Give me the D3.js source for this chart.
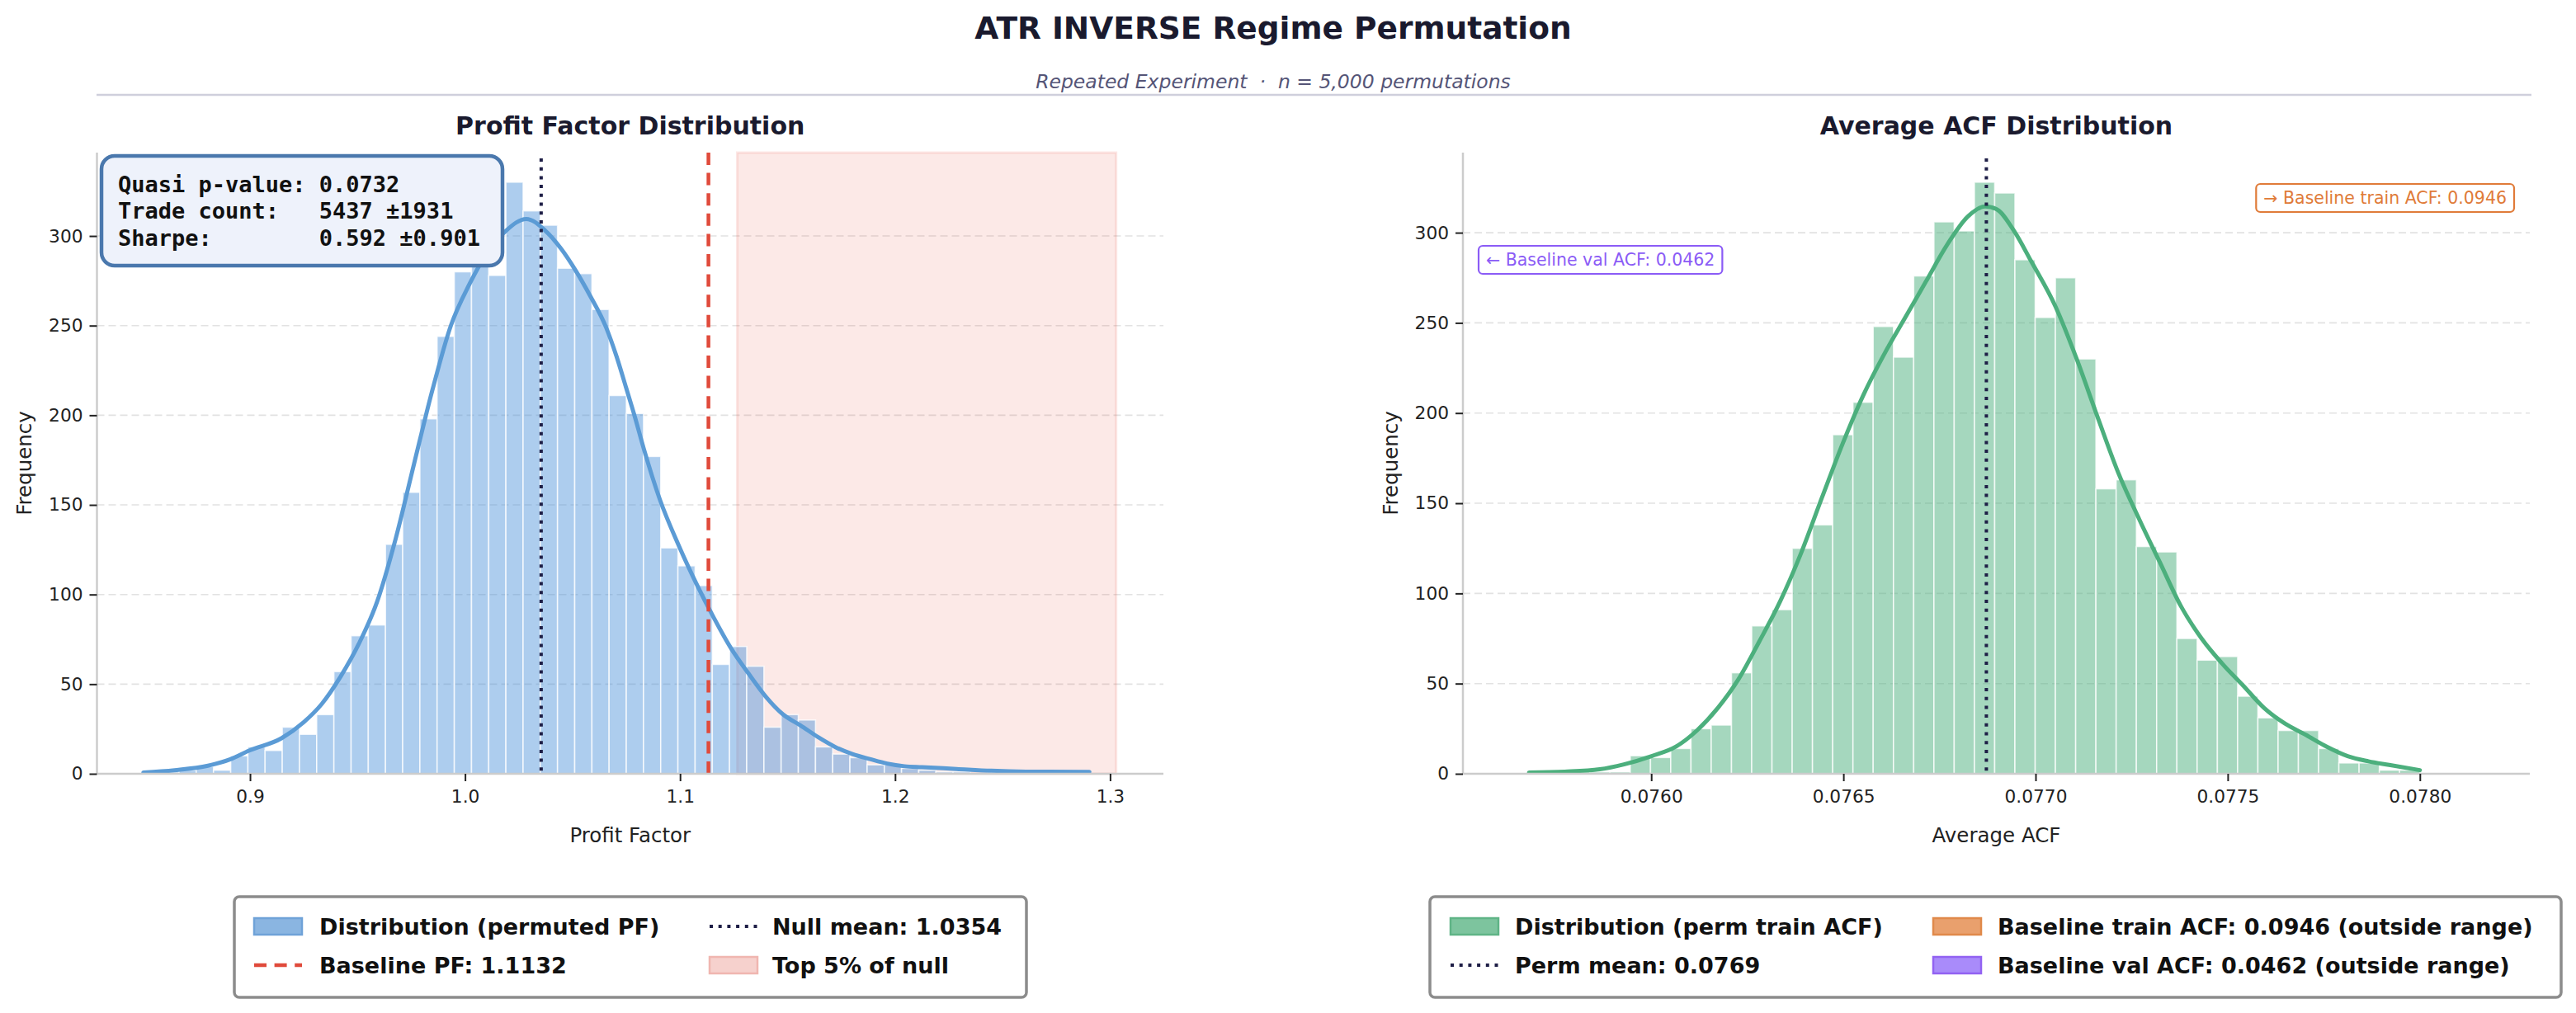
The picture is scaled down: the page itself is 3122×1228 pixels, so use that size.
<!DOCTYPE html>
<html>
<head>
<meta charset="utf-8">
<script src="https://cdn.jsdelivr.net/npm/d3@7"></script>
<style>
  body { margin: 0; background: #ffffff; }
  svg { display: block; font-family: "DejaVu Sans", sans-serif; }
  .mono { font-family: "DejaVu Sans Mono", monospace; white-space: pre; }
</style>
</head>
<body>
<div id="chart"></div>
<script>

var W = 3122;
var H = 1228;

// profit factor histogram (5,000 permutations)
var pfBinStart = 0.851;
var pfBinWidth = 0.008;
var pfCounts = [1, 1, 2, 4, 2, 10, 15, 13, 26, 22,
                33, 57, 77, 83, 128, 157, 198, 244, 280, 287,
                278, 330, 314, 306, 282, 279, 259, 211, 201, 177,
                126, 116, 105, 61, 71, 60, 26, 33, 30, 15,
                11, 9, 5, 5, 3, 2, 1, 1, 0, 1,
                0, 0, 1, 0, 1];
var pfKdeX = [0.8504, 0.8649, 0.8804, 0.8906, 0.8997, 0.9146, 0.9249, 0.9334, 0.9420, 0.9506,
              0.9591, 0.9677, 0.9763, 0.9848, 0.9934, 1.0020, 1.0105, 1.0191, 1.0285, 1.0373,
              1.0446, 1.0513, 1.0580, 1.0656, 1.0704, 1.0750, 1.0790, 1.0832, 1.0906, 1.0995,
              1.1076, 1.1157, 1.1237, 1.1318, 1.1399, 1.1480, 1.1560, 1.1641, 1.1721, 1.1802,
              1.1883, 1.1963, 1.2044, 1.2125, 1.2286, 1.2447, 1.2609, 1.2904];
var pfKdeY = [0.7, 2, 4.5, 8, 13, 19.8, 28.7, 39, 54, 72.5,
              96, 131, 173, 214, 250, 273, 291, 303, 309.5, 303,
              293, 281, 267, 249, 233, 215, 199, 181, 153, 127,
              106, 87, 70, 56, 43, 33, 27, 20.5, 15, 11,
              8.2, 5.7, 4.2, 3.7, 2.7, 1.7, 1.2, 1];
var pfBaseline = 1.1132;
var pfNullMean = 1.0354;
var pfTop5 = [1.1266, 1.3028];
var pfTicks = [0.9, 1.0, 1.1, 1.2, 1.3];
var pfDomain = [0.8288, 1.3248];

// average ACF histogram
var acfBinStart = 0.075682;
var acfBinWidth = 0.00005268;
var acfCounts = [1, 0, 1, 1, 1, 10, 9, 14, 25, 27,
                 56, 82, 91, 125, 138, 188, 206, 248, 231, 276,
                 306, 301, 328, 322, 285, 253, 275, 230, 158, 163,
                 126, 123, 75, 63, 65, 43, 31, 24, 24, 14,
                 6, 6, 2, 2];
var acfKdeX = [0.075682, 0.075775, 0.075866, 0.075929, 0.076001, 0.076064, 0.076119, 0.076173, 0.076227, 0.076281,
               0.076335, 0.076390, 0.076444, 0.076498, 0.076552, 0.076607, 0.076661, 0.076715, 0.076769, 0.076824,
               0.076869, 0.076899, 0.076944, 0.076989, 0.077052, 0.077107, 0.077161, 0.077215, 0.077270, 0.077324,
               0.077378, 0.077432, 0.077486, 0.077541, 0.077595, 0.077649, 0.077703, 0.077758, 0.077812, 0.077866,
               0.077920, 0.078000];
var acfKdeY = [0.7, 1.2, 2.5, 5.2, 9.8, 15, 24, 36.4, 52.4, 73.3,
               95.4, 122.4, 153, 183, 210, 233, 253, 273, 293, 309,
               314.6, 313, 301, 284, 259, 230, 198, 167, 141, 117,
               93, 75, 61, 48.7, 36.4, 27.8, 21.6, 15, 9.8, 6.9,
               4.9, 2];
var acfPermMean = 0.076872;
var acfTicks = [0.0760, 0.0765, 0.0770, 0.0775, 0.0780];
var acfDomain = [0.075510, 0.078286];

var yTicks = [0, 50, 100, 150, 200, 250, 300];

var statLines = ["Quasi p-value: 0.0732",
                 "Trade count:   5437 \u00b11931",
                 "Sharpe:        0.592 \u00b10.901"];

var svg;

document.addEventListener('DOMContentLoaded', function() {
  svg = d3.select('#chart').append('svg')
    .attr('width', W)
    .attr('height', H)
    .attr('viewBox', [0, 0, W, H]);

  // header
  svg.append('text')
    .attr('x', 1543).attr('y', 34)
    .attr('text-anchor', 'middle').attr('dominant-baseline', 'central')
    .style('font-size', '37.5px').style('font-weight', 'bold')
    .style('fill', '#1a1a2e')
    .text('ATR INVERSE Regime Permutation');
  svg.append('text')
    .attr('x', 1543).attr('y', 99)
    .attr('text-anchor', 'middle').attr('dominant-baseline', 'central')
    .style('font-size', '23.5px').style('font-style', 'italic')
    .style('fill', '#555577').style('white-space', 'pre')
    .text('Repeated Experiment  \u00b7  n = 5,000 permutations');
  svg.append('line')
    .attr('x1', 117).attr('x2', 3068).attr('y1', 115).attr('y2', 115)
    .style('stroke', '#cfcfdc').style('stroke-width', 2.5);

  drawPanel({
    left: 117.5, right: 1410, top: 185, bottom: 938,
    domain: pfDomain, ymax: 330 * 1.05,
    ticks: pfTicks, fmt: d3.format('.1f'),
    binStart: pfBinStart, binWidth: pfBinWidth, counts: pfCounts,
    kdeX: pfKdeX, kdeY: pfKdeY,
    barColor: '#4a90d9', barOpacity: 0.45, lineColor: '#5b9bd5',
    title: 'Profit Factor Distribution', xlabel: 'Profit Factor',
    mean: pfNullMean,
    span: pfTop5, baseline: pfBaseline
  });

  // stats box on the profit factor panel
  var sb = svg.append('g');
  sb.append('rect')
    .attr('x', 123).attr('y', 189).attr('width', 486).attr('height', 133)
    .attr('rx', 16)
    .style('fill', '#eef2fb').style('stroke', '#4a78ad').style('stroke-width', 4.5);
  sb.selectAll('text').data(statLines).enter().append('text')
    .attr('class', 'mono')
    .attr('x', 143)
    .attr('y', (d, i) => 223 + i * 32.5)
    .attr('dominant-baseline', 'central')
    .style('font-size', '27px').style('font-weight', 'bold').style('fill', '#111')
    .text(d => d);

  drawPanel({
    left: 1773, right: 3066, top: 185, bottom: 938,
    domain: acfDomain, ymax: 328 * 1.05,
    ticks: acfTicks, fmt: d3.format('.4f'),
    binStart: acfBinStart, binWidth: acfBinWidth, counts: acfCounts,
    kdeX: acfKdeX, kdeY: acfKdeY,
    barColor: '#4caf7d', barOpacity: 0.5, lineColor: '#4caf7d',
    title: 'Average ACF Distribution', xlabel: 'Average ACF',
    mean: acfPermMean
  });

  // off-range baseline notes
  noteBox(1792, 315, 'start', '\u2190 Baseline val ACF: 0.0462', '#8b5cf6');
  noteBox(3047, 240, 'end', '\u2192 Baseline train ACF: 0.0946', '#e07b39');

  // legends
  drawLegend(284, 1087, 960, 122, [
    { type: 'patch', fill: '#8ab5e1', stroke: '#6fa2d8', label: 'Distribution (permuted PF)', x: 308, tx: 387, row: 0 },
    { type: 'dash', stroke: '#e04a3b', label: 'Baseline PF: 1.1132', x: 308, tx: 387, row: 1 },
    { type: 'dot', stroke: '#1e1e46', label: 'Null mean: 1.0354', x: 860, tx: 936, row: 0 },
    { type: 'patch', fill: '#f6d1cd', stroke: '#f0b6b0', label: 'Top 5% of null', x: 860, tx: 936, row: 1 }
  ]);
  drawLegend(1733, 1087, 1371, 122, [
    { type: 'patch', fill: '#7dc49e', stroke: '#5fb486', label: 'Distribution (perm train ACF)', x: 1758, tx: 1836, row: 0 },
    { type: 'dot', stroke: '#1e1e46', label: 'Perm mean: 0.0769', x: 1758, tx: 1836, row: 1 },
    { type: 'patch', fill: '#e9a06d', stroke: '#e0894a', label: 'Baseline train ACF: 0.0946 (outside range)', x: 2343, tx: 2421, row: 0 },
    { type: 'patch', fill: '#a98bfa', stroke: '#9262f2', label: 'Baseline val ACF: 0.0462 (outside range)', x: 2343, tx: 2421, row: 1 }
  ]);
});

// one histogram panel with kde, grid and reference lines
function drawPanel(o) {
  var x = d3.scaleLinear().domain(o.domain).range([o.left, o.right]);
  var y = d3.scaleLinear().domain([0, o.ymax]).range([o.bottom, o.top]);
  var g = svg.append('g');

  // grid
  g.selectAll('.grid').data(yTicks.slice(1)).enter().append('line')
    .attr('x1', o.left).attr('x2', o.right)
    .attr('y1', d => y(d)).attr('y2', d => y(d))
    .style('stroke', '#e2e2e2').style('stroke-width', 1.6)
    .style('stroke-dasharray', '9,5');

  if (o.span) {
    g.append('rect')
      .attr('x', x(o.span[0])).attr('y', o.top)
      .attr('width', x(o.span[1]) - x(o.span[0])).attr('height', o.bottom - o.top)
      .style('fill', '#e74c3c').style('fill-opacity', 0.12)
      .style('stroke', '#e74c3c').style('stroke-opacity', 0.13).style('stroke-width', 3);
  }

  // bars
  g.selectAll('.bar').data(o.counts).enter().append('rect')
    .attr('x', (d, i) => x(o.binStart + i * o.binWidth))
    .attr('width', (d, i) => x(o.binStart + (i + 1) * o.binWidth) - x(o.binStart + i * o.binWidth))
    .attr('y', d => y(d))
    .attr('height', d => o.bottom - y(d))
    .style('fill', o.barColor).style('fill-opacity', o.barOpacity)
    .style('stroke', '#ffffff').style('stroke-opacity', 0.75).style('stroke-width', 1.6);

  // kde curve
  var pts = o.kdeX.map((v, i) => [v, o.kdeY[i]]);
  var line = d3.line().x(d => x(d[0])).y(d => y(d[1])).curve(d3.curveMonotoneX);
  g.append('path').datum(pts)
    .attr('d', line)
    .style('fill', 'none').style('stroke', o.lineColor)
    .style('stroke-width', 5).style('stroke-linecap', 'round');

  // mean (dotted)
  g.append('line')
    .attr('x1', x(o.mean)).attr('x2', x(o.mean))
    .attr('y1', o.top + 7).attr('y2', o.bottom)
    .style('stroke', '#1e1e46').style('stroke-width', 4)
    .style('stroke-dasharray', '4,6.7');

  if (o.baseline) {
    g.append('line')
      .attr('x1', x(o.baseline)).attr('x2', x(o.baseline))
      .attr('y1', o.top).attr('y2', o.bottom)
      .style('stroke', '#e04a3b').style('stroke-width', 4.5)
      .style('stroke-dasharray', '15,9.6');
  }

  // spines
  g.append('line').attr('x1', o.left).attr('x2', o.left).attr('y1', o.top).attr('y2', o.bottom)
    .style('stroke', '#cccccc').style('stroke-width', 2.5);
  g.append('line').attr('x1', o.left).attr('x2', o.right).attr('y1', o.bottom).attr('y2', o.bottom)
    .style('stroke', '#cccccc').style('stroke-width', 2.5);

  // axes
  var xa = g.append('g').attr('transform', `translate(0,${o.bottom})`)
    .call(d3.axisBottom(x).tickValues(o.ticks).tickFormat(o.fmt).tickSize(9).tickPadding(11));
  var ya = g.append('g').attr('transform', `translate(${o.left},0)`)
    .call(d3.axisLeft(y).tickValues(yTicks).tickSize(9).tickPadding(8));
  [xa, ya].forEach(a => {
    a.select('.domain').remove();
    a.selectAll('.tick line').style('stroke', '#222').style('stroke-width', 2);
    a.selectAll('.tick text')
      .style('font-family', '"DejaVu Sans", sans-serif')
      .style('font-size', '21.7px').style('fill', '#222');
  });

  // labels
  g.append('text')
    .attr('x', (o.left + o.right) / 2).attr('y', 152)
    .attr('text-anchor', 'middle').attr('dominant-baseline', 'central')
    .style('font-size', '30px').style('font-weight', 'bold').style('fill', '#1a1a2e')
    .text(o.title);
  g.append('text')
    .attr('x', (o.left + o.right) / 2).attr('y', 1012)
    .attr('text-anchor', 'middle').attr('dominant-baseline', 'central')
    .style('font-size', '24.5px').style('fill', '#222')
    .text(o.xlabel);
  g.append('text')
    .attr('transform', `translate(${o.left - 88},${(o.top + o.bottom) / 2}) rotate(-90)`)
    .attr('text-anchor', 'middle').attr('dominant-baseline', 'central')
    .style('font-size', '24.5px').style('fill', '#222')
    .text('Frequency');
}

// rounded text box, sized from its text
function noteBox(ax, cy, anchor, label, color) {
  var g = svg.append('g');
  var t = g.append('text')
    .attr('y', cy).attr('dominant-baseline', 'central')
    .style('font-size', '20.5px').style('fill', color)
    .text(label);
  var w = t.node().getComputedTextLength();
  var pad = 9;
  var x0 = anchor == 'start' ? ax : ax - w - 2 * pad;
  t.attr('x', x0 + pad);
  g.insert('rect', 'text')
    .attr('x', x0).attr('y', cy - 17).attr('width', w + 2 * pad).attr('height', 34)
    .attr('rx', 5)
    .style('fill', '#ffffff').style('stroke', color).style('stroke-width', 2.2);
}

function drawLegend(x0, y0, w, h, items) {
  var g = svg.append('g');
  var rowY = [1123, 1170];
  g.append('rect')
    .attr('x', x0).attr('y', y0).attr('width', w).attr('height', h)
    .attr('rx', 6)
    .style('fill', '#ffffff').style('stroke', '#8c8c8c').style('stroke-width', 3.5);
  items.forEach(it => {
    var cy = rowY[it.row];
    if (it.type == 'patch') {
      g.append('rect')
        .attr('x', it.x).attr('y', cy - 10).attr('width', 58).attr('height', 20)
        .style('fill', it.fill).style('stroke', it.stroke).style('stroke-width', 2.5);
    } else {
      g.append('line')
        .attr('x1', it.x).attr('x2', it.x + 58).attr('y1', cy).attr('y2', cy)
        .style('stroke', it.stroke)
        .style('stroke-width', it.type == 'dash' ? 4.5 : 4)
        .style('stroke-dasharray', it.type == 'dash' ? '15,9.6' : '4,6.7');
    }
    g.append('text')
      .attr('x', it.tx).attr('y', cy).attr('dominant-baseline', 'central')
      .style('font-size', '27px').style('font-weight', 'bold').style('fill', '#111')
      .text(it.label);
  });
}
</script>
</body>
</html>
